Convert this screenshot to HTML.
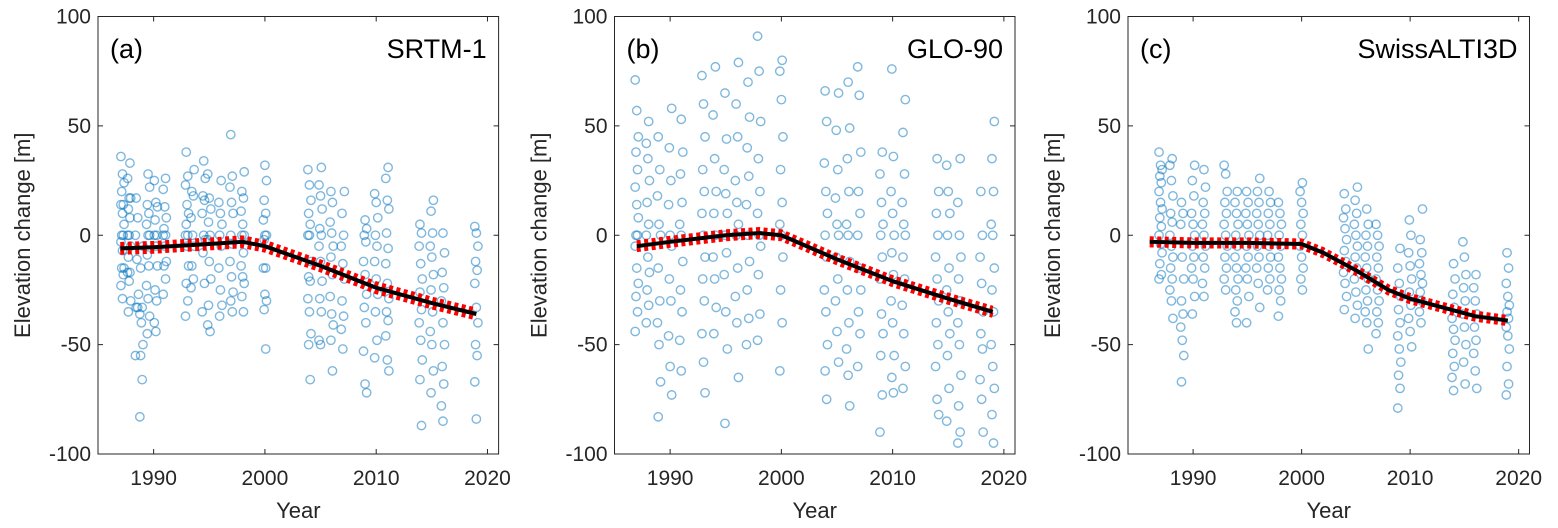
<!DOCTYPE html>
<html><head><meta charset="utf-8"><style>
body{margin:0;background:#fff}
svg{display:block;font-family:"Liberation Sans",Arial,sans-serif}
</style></head><body>
<svg id="fig" width="1558" height="528" viewBox="0 0 1558 528" xmlns="http://www.w3.org/2000/svg"></svg>
<script>
const yTicks=[-100,-50,0,50,100];
const xTicks=[1990,2000,2010,2020];
const panelLabels=["(a)","(b)","(c)"];
const panelTitles=["SRTM-1","GLO-90","SwissALTI3D"];
const xLims=[[1985,2021],[1985,2021],[1984,2021]];
const groupYearsA=[1987.2,1987.8,1988.5,1988.9,1989.5,1990.2,1991,1993,1993.5,1994.5,1995,1996,1997,1998,2000,2004,2005,2006,2007,2009,2010,2011,2014,2015,2016,2019];
const groupValsA=[[36,28,24,20,14,14,10,5,0,0,-3,-7,-15,-15,-18,-23,-29],[33,26,17,17,12,8,0,0,-5,-10,-17,-17,-21,-30,-35],[17,8,0,-11,-27,-33,-33,-55],[-5,-15,-33,-36,-40,-50,-55,-66,-83],[28,22,14,10,5,0,0,-9,-14,-23,-29,-37,-45],[25,15,13,7,0,0,-5,-14,-25,-30,-40,-44],[26,21,13,8,3,0,0,-5,-12,-14,-20,-27],[38,27,23,14,10,5,0,0,-5,-14,-22,-30,-37],[30,20,18,8,0,-5,-14,-20,-24],[34,26,18,16,10,0,-2,-8,-22,-35],[28,17,12,6,0,-2,-12,-20,-32,-44,-41],[25,15,10,5,0,-5,-15,-25,-32,-37],[46,27,22,15,10,0,-4,-12,-19,-26,-30,-35],[29,20,17,11,5,0,0,-8,-14,-19,-22,-28,-35],[32,25,16,10,7,0,0,-2,-15,-15,-27,-30,-34,-52],[30,23,16,10,5,0,0,-12,-19,-21,-29,-35,-45,-50,-66],[31,23,18,12,3,0,-5,-12,-21,-29,-35,-48,-50],[20,15,6,1,-5,-10,-18,-28,-36,-41,-48,-62],[20,10,0,-5,-13,-20,-30,-37,-43,-52],[7,3,0,-3,-12,-18,-27,-33,-40,-53,-68,-72],[19,15,8,0,-5,-12,-20,-27,-35,-48,-56],[31,26,16,12,1,-6,-13,-22,-29,-35,-39,-46,-57,-62],[5,1,-5,-13,-20,-26,-34,-40,-48,-57,-66,-87],[16,11,1,-5,-10,-18,-25,-35,-44,-50,-62,-72],[1,-8,-17,-24,-30,-40,-50,-60,-68,-78,-85],[4,1,-5,-12,-16,-22,-33,-40,-50,-55,-67,-84]];
const groupYearsB=[1987,1988,1989,1990,1991,1993,1994,1995,1996,1997,1998,2000,2004,2005,2006,2007,2009,2010,2011,2014,2015,2016,2018,2019];
const groupValsB=[[71,57,45,38,30,22,14,8,0,0,-5,-15,-22,-28,-35,-44],[52,42,35,25,15,5,0,-10,-17,-25,-32,-40],[45,30,18,5,0,-15,-30,-40,-50,-67,-83],[58,40,25,14,0,-5,-20,-30,-46,-60,-73],[53,38,28,15,5,0,-12,-25,-35,-48,-62],[73,60,45,30,20,10,0,-10,-20,-30,-45,-58,-72],[77,55,35,20,10,0,-10,-20,-33,-45],[65,44,30,19,10,0,-8,-18,-35,-52,-86],[79,60,45,25,15,5,0,-15,-28,-40,-65],[70,54,40,27,14,0,-12,-25,-38,-50],[91,75,52,35,20,10,0,-5,-18,-36,-48],[80,75,62,45,30,15,5,0,-10,-25,-40,-62],[66,52,33,20,10,0,-10,-25,-35,-50,-62,-75],[65,48,30,17,5,0,-10,-20,-30,-44,-58],[70,49,35,20,5,0,-12,-25,-40,-52,-64,-78],[77,64,38,20,10,0,-15,-25,-35,-45,-60],[38,28,15,5,0,-10,-20,-36,-45,-55,-73,-90],[76,36,20,10,0,-8,-18,-30,-40,-55,-65,-72],[62,47,28,15,5,0,-10,-20,-32,-45,-60,-70],[35,20,10,0,-10,-20,-30,-40,-50,-60,-75,-82],[32,20,10,0,-15,-25,-35,-45,-55,-70,-85],[35,15,0,-10,-20,-30,-40,-50,-64,-78,-90,-95],[20,0,-10,-22,-35,-45,-52,-66,-75,-90],[52,35,20,5,0,-15,-25,-35,-50,-60,-70,-82,-95]];
const groupYearsC=[1987,1988,1989,1990,1991,1993,1994,1995,1996,1997,1998,2000,2004,2005,2006,2007,2009,2010,2011,2014,2015,2016,2019];
const groupValsC=[[38,32,30,27,24,20,15,12,8,4,0,-4,-8,-13,-18,-20],[35,32,25,18,10,6,0,-5,-10,-15,-20,-25,-30,-38],[15,10,5,-10,-20,-30,-36,-42,-48,-55,-67],[32,25,18,10,5,0,-5,-10,-15,-20,-28,-36],[30,22,15,10,5,0,-5,-10,-15,-22,-28],[32,28,20,15,10,5,0,-5,-10,-15,-20,-25],[20,15,10,5,0,-5,-10,-15,-20,-25,-30,-35,-40],[20,15,10,5,0,-5,-10,-15,-20,-28,-40],[26,20,15,10,5,0,-5,-10,-15,-22,-33],[20,15,10,5,0,-5,-10,-15,-20,-25],[15,10,5,0,-5,-10,-15,-20,-25,-30,-37],[24,20,15,10,5,0,-5,-10,-15,-20,-25],[19,12,8,3,-2,-7,-12,-17,-22,-28,-34],[22,16,10,5,0,-5,-10,-15,-20,-26,-32,-38],[12,5,0,-5,-10,-15,-20,-25,-30,-35,-40,-52],[5,0,-5,-10,-15,-20,-25,-30,-35,-40,-45],[-6,-15,-22,-28,-34,-40,-46,-52,-58,-64,-70,-79],[7,0,-8,-14,-20,-26,-32,-38,-44,-51],[12,-2,-8,-13,-18,-22,-26,-30,-35,-40],[-13,-20,-27,-33,-38,-43,-48,-54,-60,-65,-71],[-3,-10,-18,-24,-30,-36,-42,-50,-58,-68],[-18,-24,-30,-36,-42,-48,-54,-62,-70],[-8,-15,-22,-28,-32,-35,-38,-42,-46,-52,-60,-68,-73]];
const trendYearsA=[1987,1990,1995,1998,2000,2005,2010,2015,2019];
const trendValsA=[-6,-5.5,-4,-3,-5,-14,-24,-31,-36];
const trendYearsB=[1987,1990,1995,1998,2000,2005,2010,2015,2019];
const trendValsB=[-5,-3,0,1,0,-11,-21,-29,-35];
const trendYearsC=[1986,1990,1995,2000,2002,2005,2008,2010,2013,2016,2019];
const trendValsC=[-3,-3.5,-3.5,-4,-8,-16,-25,-29,-33,-37,-39];
const bandOffset=[1.8,1.6,1.4];

const NS="http://www.w3.org/2000/svg";
const svg=document.getElementById('fig');
function mk(t,a,p){const e=document.createElementNS(NS,t);for(const k in a)e.setAttribute(k,a[k]);(p||svg).appendChild(e);return e;}
const boxes=[{L:98,R:498.6},{L:614.5,R:1015},{L:1128,R:1529.5}];
const T=16.5,B=454;
const allYears=[groupYearsA,groupYearsB,groupYearsC];
const allVals=[groupValsA,groupValsB,groupValsC];
const tY=[trendYearsA,trendYearsB,trendYearsC];
const tV=[trendValsA,trendValsB,trendValsC];
const pnames=['a','b','c'];
boxes.forEach((bx,pi)=>{
  const g=mk('g',{});
  
  
  const xl=xLims[pi];
  const sx=v=>bx.L+(v-xl[0])/(xl[1]-xl[0])*(bx.R-bx.L);
  const sy=v=>B-(v+100)/200*(B-T);
  const sg=mk('g',{fill:'none',stroke:'#0072BD','stroke-opacity':'0.5','stroke-width':'1.4'},g);
  
  
  allYears[pi].forEach((yr,gi)=>{
    allVals[pi][gi].forEach((v,i)=>{
      const j=(((i*7+gi*3)%5)-2)*0.07;
      const c=mk('circle',{cx:sx(yr+j),cy:sy(v),r:4.2},sg);
      
      
    });
  });
  const pts=(off)=>tY[pi].map((y,i)=>sx(y)+','+sy(tV[pi][i]+off)).join(' ');
  [1,-1].forEach(s=>{
    const r=mk('polyline',{points:pts(s*bandOffset[pi]),fill:'none',stroke:'#ff0000','stroke-width':'5','stroke-dasharray':'4 3.5'},g);
    
    
  });
  const bl=mk('polyline',{points:pts(0),fill:'none',stroke:'#000','stroke-width':'4','stroke-linejoin':'round'},g);
  
  
  const rc=mk('rect',{x:bx.L,y:T,width:bx.R-bx.L,height:B-T,fill:'none',stroke:'#262626','stroke-width':'1'},g);
  
  
  yTicks.forEach(t=>{
    const y=sy(t);
    mk('line',{x1:bx.L,x2:bx.L+5,y1:y,y2:y,stroke:'#262626'},g);
    mk('line',{x1:bx.R,x2:bx.R-5,y1:y,y2:y,stroke:'#262626'},g);
    const tx=mk('text',{x:bx.L-7,y:y+7,'text-anchor':'end','font-size':'21',fill:'#262626'},g);
    tx.textContent=t;
    
    
  });
  xTicks.forEach(t=>{
    const x=sx(t);
    mk('line',{x1:x,x2:x,y1:B,y2:B-5,stroke:'#262626'},g);
    mk('line',{x1:x,x2:x,y1:T,y2:T+5,stroke:'#262626'},g);
    const tx=mk('text',{x:x,y:485,'text-anchor':'middle','font-size':'21',fill:'#262626'},g);
    tx.textContent=t;
    
    
  });
  const xt=mk('text',{x:(bx.L+bx.R)/2,y:518,'text-anchor':'middle','font-size':'22',fill:'#262626'},g);
  xt.textContent='Year';
  
  
  const yx=bx.L-68, yc=(T+B)/2;
  const yt=mk('text',{x:yx,y:yc,'text-anchor':'middle','font-size':'22',fill:'#262626',transform:'rotate(-90 '+yx+' '+yc+')'},g);
  yt.textContent='Elevation change [m]';
  
  
  const pl=mk('text',{x:bx.L+12,y:58,'font-size':'27',fill:'#000'},g);
  pl.textContent=panelLabels[pi];
  
  
  const ptt=mk('text',{x:bx.R-12,y:58,'text-anchor':'end','font-size':'27',fill:'#000'},g);
  ptt.textContent=panelTitles[pi];
  
  
});
</script>
</body></html>
